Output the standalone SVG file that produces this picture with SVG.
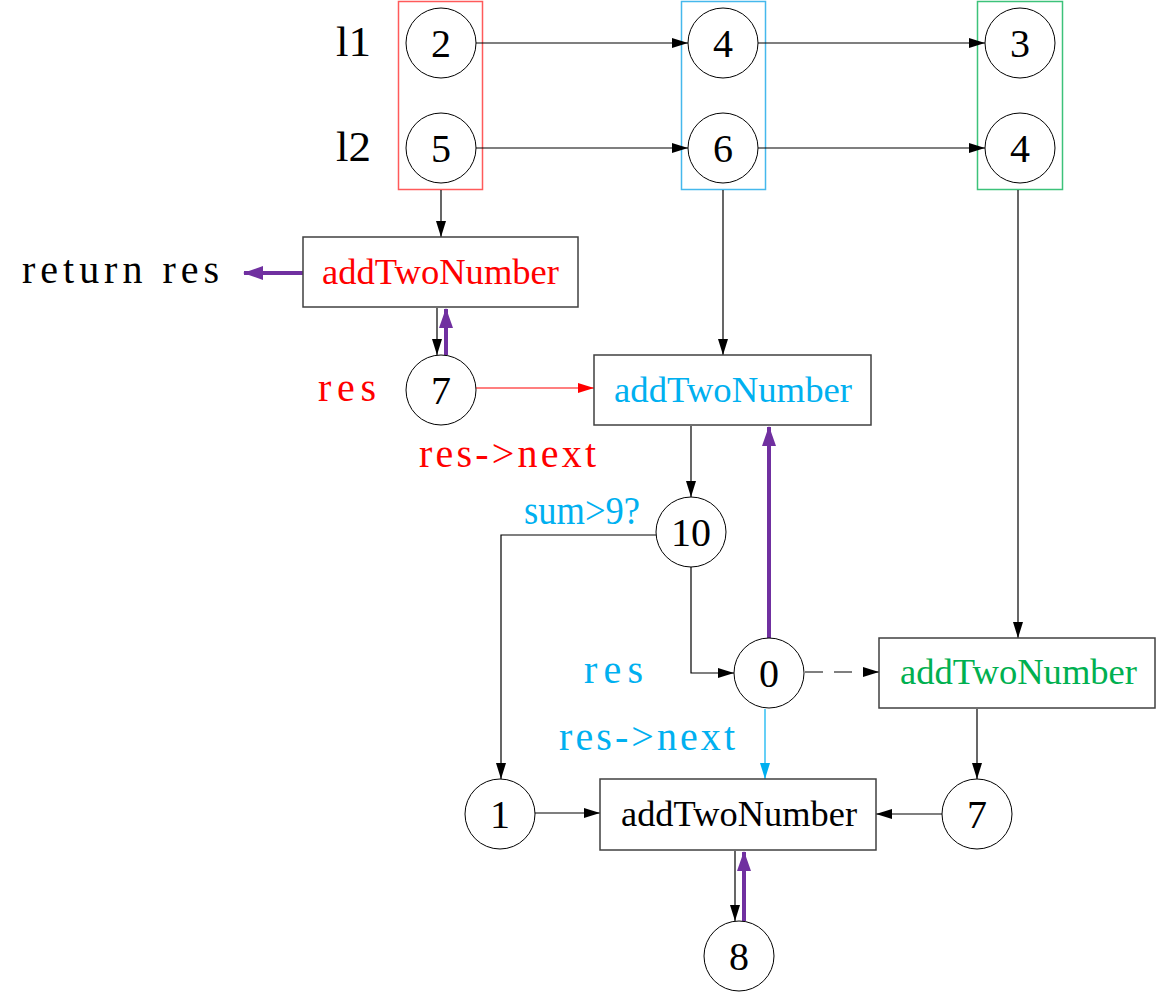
<svg xmlns="http://www.w3.org/2000/svg" width="1157" height="994" viewBox="0 0 1157 994">
<defs>
<style>
.bg{fill:#ffffff}
.c{fill:#ffffff;stroke:#000;stroke-width:1}
.box{fill:#ffffff;stroke:#404040;stroke-width:1.5}
.num{font-family:"Liberation Serif",serif;font-size:40px;fill:#000;text-anchor:middle}
.lbl{font-family:"Liberation Serif",serif;font-size:40px}
.fn{font-family:"Liberation Serif",serif;font-size:36px}
.big{font-family:"Liberation Serif",serif;font-size:42px;fill:#000}
.k{fill:#000}.r{fill:#FF0000}.b{fill:#00B0F0}.g{fill:#00B050}
.ln{fill:none;stroke:#000;stroke-width:1.2}
.lr{fill:none;stroke:#FF0000;stroke-width:1.2}
.lb{fill:none;stroke:#00B0F0;stroke-width:1.2}
.lp{fill:none;stroke:#7030A0;stroke-width:4}
</style>
<marker id="ak" markerUnits="userSpaceOnUse" markerWidth="16" markerHeight="12" refX="16" refY="6" orient="auto"><path d="M0,1 L16,6 L0,11 z" fill="#000"/></marker>
<marker id="ar" markerUnits="userSpaceOnUse" markerWidth="16" markerHeight="12" refX="16" refY="6" orient="auto"><path d="M0,1 L16,6 L0,11 z" fill="#FF0000"/></marker>
<marker id="ab" markerUnits="userSpaceOnUse" markerWidth="16" markerHeight="12" refX="16" refY="6" orient="auto"><path d="M0,1 L16,6 L0,11 z" fill="#00B0F0"/></marker>
<marker id="ap" markerUnits="userSpaceOnUse" markerWidth="20" markerHeight="14" refX="19" refY="7" orient="auto"><path d="M0,0 L20,7 L0,14 z" fill="#7030A0"/></marker>
</defs>
<rect class="bg" x="0" y="0" width="1157" height="994"/>

<g id="groups">
<rect x="398.5" y="1.5" width="84" height="188" fill="none" stroke="#FF5A5A" stroke-width="1.5"/>
<rect x="681.5" y="1.5" width="84" height="188" fill="none" stroke="#45B8EC" stroke-width="1.5"/>
<rect x="977.5" y="1.5" width="85" height="188" fill="none" stroke="#3CC27A" stroke-width="1.5"/>
</g>

<g id="connectors">
<path class="ln" d="M476,43 H688" marker-end="url(#ak)"/>
<path class="ln" d="M476,148 H688" marker-end="url(#ak)"/>
<path class="ln" d="M758,43 H985" marker-end="url(#ak)"/>
<path class="ln" d="M758,148 H985" marker-end="url(#ak)"/>
<path class="ln" d="M441,190 V237" marker-end="url(#ak)"/>
<path class="ln" d="M723,190 V355" marker-end="url(#ak)"/>
<path class="ln" d="M1018,190 V638" marker-end="url(#ak)"/>
<path class="ln" d="M437,308 V355" marker-end="url(#ak)"/>
<path class="lp" d="M446,355 V309" marker-end="url(#ap)"/>
<path class="lp" d="M303,273 H244" marker-end="url(#ap)"/>
<path class="lr" d="M476,388 H594" marker-end="url(#ar)"/>
<path class="ln" d="M691,426 V497" marker-end="url(#ak)"/>
<path class="ln" d="M656,535 H501 V779" marker-end="url(#ak)"/>
<path class="ln" d="M691,567 V673 H734" marker-end="url(#ak)"/>
<path class="lp" d="M769,638 V427" marker-end="url(#ap)"/>
<path class="ln" d="M805,672 H879" stroke-dasharray="18 11" marker-end="url(#ak)"/>
<path class="lb" d="M765,709 V779" marker-end="url(#ab)"/>
<path class="ln" d="M535,813 H600" marker-end="url(#ak)"/>
<path class="ln" d="M977,709 V779" marker-end="url(#ak)"/>
<path class="ln" d="M942,814 H876" marker-end="url(#ak)"/>
<path class="ln" d="M735,851 V921" marker-end="url(#ak)"/>
<path class="lp" d="M744,921 V852" marker-end="url(#ap)"/>
</g>

<g id="labels">
<text class="big" x="336" y="56" textLength="35" lengthAdjust="spacingAndGlyphs">l1</text>
<text class="big" x="336" y="161" textLength="35" lengthAdjust="spacingAndGlyphs">l2</text>
<text class="lbl k" x="22" y="283" textLength="197" lengthAdjust="spacing">return res</text>
<text class="lbl r" x="318" y="401" textLength="58" lengthAdjust="spacing">res</text>
<text class="lbl r" x="419" y="467" textLength="177" lengthAdjust="spacing">res-&gt;next</text>
<text class="lbl b" x="524" y="524" textLength="116" lengthAdjust="spacingAndGlyphs">sum&gt;9?</text>
<text class="lbl b" x="584" y="683" textLength="59" lengthAdjust="spacing">res</text>
<text class="lbl b" x="559" y="750" textLength="176" lengthAdjust="spacing">res-&gt;next</text>
</g>

<g id="n2"><circle class="c" cx="441" cy="43" r="35"/><text class="num" x="441" y="57">2</text></g>
<g id="n5"><circle class="c" cx="441" cy="148" r="35"/><text class="num" x="441" y="162">5</text></g>
<g id="n4a"><circle class="c" cx="723" cy="43" r="35"/><text class="num" x="723" y="57">4</text></g>
<g id="n6"><circle class="c" cx="723" cy="148" r="35"/><text class="num" x="723" y="162">6</text></g>
<g id="n3"><circle class="c" cx="1020" cy="43" r="35"/><text class="num" x="1020" y="57">3</text></g>
<g id="n4b"><circle class="c" cx="1020" cy="148" r="35"/><text class="num" x="1020" y="162">4</text></g>

<g id="add1"><rect class="box" x="303" y="237" width="275" height="70"/><text class="fn r" x="322" y="284" textLength="237" lengthAdjust="spacingAndGlyphs">addTwoNumber</text></g>
<g id="n7a"><circle class="c" cx="441" cy="390" r="35"/><text class="num" x="441" y="404">7</text></g>
<g id="add2"><rect class="box" x="594" y="355" width="277" height="70"/><text class="fn b" x="614" y="402" textLength="238" lengthAdjust="spacingAndGlyphs">addTwoNumber</text></g>
<g id="n10"><circle class="c" cx="691" cy="532" r="35"/><text class="num" x="691" y="546">10</text></g>
<g id="n0"><circle class="c" cx="769" cy="673" r="35"/><text class="num" x="769" y="687">0</text></g>
<g id="add3"><rect class="box" x="879" y="638" width="276" height="70"/><text class="fn g" x="900" y="684" textLength="237" lengthAdjust="spacingAndGlyphs">addTwoNumber</text></g>
<g id="n1"><circle class="c" cx="500" cy="814" r="35"/><text class="num" x="500" y="828">1</text></g>
<g id="add4"><rect class="box" x="600" y="779" width="276" height="71"/><text class="fn k" x="621" y="826" textLength="236" lengthAdjust="spacingAndGlyphs">addTwoNumber</text></g>
<g id="n7b"><circle class="c" cx="977" cy="814" r="35"/><text class="num" x="977" y="828">7</text></g>
<g id="n8"><circle class="c" cx="739" cy="956" r="35"/><text class="num" x="739" y="970">8</text></g>
</svg>
